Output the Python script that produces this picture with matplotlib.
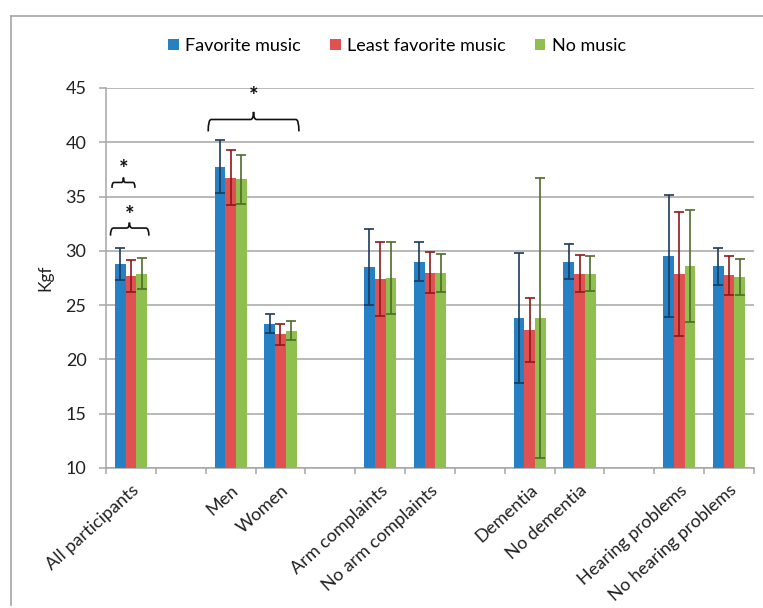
import matplotlib
matplotlib.use("Agg")
import matplotlib.pyplot as plt
from matplotlib.path import Path
from matplotlib.patches import PathPatch
from matplotlib.lines import Line2D
import numpy as np

plt.rcParams['font.family'] = ['Lato', 'DejaVu Sans']

categories = ["All participants", "", "Men", "Women", "", "Arm complaints",
              "No arm complaints", "", "Dementia", "No dementia", "",
              "Hearing problems", "No hearing problems"]
series_names = ["Favorite music", "Least favorite music", "No music"]

fav = [28.8, None, 37.75, 23.3, None, 28.5, 29.0, None, 23.8, 29.0, None, 29.5, 28.6]
least = [27.7, None, 36.75, 22.3, None, 27.4, 28.0, None, 22.7, 27.9, None, 27.9, 27.75]
nomus = [27.9, None, 36.6, 22.65, None, 27.5, 28.0, None, 23.8, 27.9, None, 28.6, 27.6]

fav_err = [1.5, None, 2.45, 0.9, None, 3.5, 1.8, None, 6.0, 1.6, None, 5.6, 1.7]
least_err = [1.5, None, 2.5, 1.0, None, 3.4, 1.85, None, 2.95, 1.7, None, 5.7, 1.8]
nomus_err = [1.4, None, 2.25, 0.85, None, 3.3, 1.75, None, 12.9, 1.6, None, 5.15, 1.65]

colors = ['#2581C4', '#E05252', '#8FBF4F']
err_colors = ['#1B3A5C', '#8B1A1A', '#4F6B2A']

FS = 13

fig = plt.figure(figsize=(7.63, 6.08), dpi=100)
ax = fig.add_axes([106/763, 1-468/608, (754-106)/763, (468-88)/608])

bw = 0.215
offsets = [-bw, 0, bw]
allvals = [fav, least, nomus]
allerrs = [fav_err, least_err, nomus_err]
for k in range(3):
    xs = [i + offsets[k] for i, v in enumerate(allvals[k]) if v is not None]
    ys = [v for v in allvals[k] if v is not None]
    es = [e for e in allerrs[k] if e is not None]
    ax.bar(xs, [y - 10 for y in ys], bottom=10, width=bw, color=colors[k], zorder=3,
           label=series_names[k])
    ax.errorbar(xs, ys, yerr=es, fmt='none', ecolor=err_colors[k], elinewidth=1.2,
                capsize=3.5, capthick=1.2, zorder=4)

ax.set_xlim(-0.5, len(categories) - 0.5)
ax.set_ylim(10, 45)
ax.set_yticks(np.arange(10, 46, 5))
ax.yaxis.grid(True, color='#A6A6A6', linewidth=1.1, zorder=0)
ax.set_axisbelow(True)
for s in ['top', 'right']:
    ax.spines[s].set_visible(False)
for s in ['left', 'bottom']:
    ax.spines[s].set_color('#A6A6A6')
    ax.spines[s].set_linewidth(1.1)

ax.set_xticks(np.arange(-0.5, len(categories), 1.0))
ax.set_xticklabels([])
ax.tick_params(axis='x', which='major', length=4, color='#A6A6A6', width=1.1)
ax.set_xticks(np.arange(len(categories)), minor=True)
ax.set_xticklabels(categories, minor=True, rotation=42, ha='right',
                   rotation_mode='anchor', fontsize=FS, color='#222222')
ax.tick_params(axis='x', which='minor', length=0, pad=10)
ax.tick_params(axis='y', length=5, color='#A6A6A6', width=1.1, labelsize=FS,
               labelcolor='#222222', pad=9)
ax.set_ylabel("Kgf", fontsize=FS - 0.5, color='#222222', labelpad=9)


def brace(x0, x1, xm, y_low, y_h, y_peak, rx=0.06):
    verts = [(x0, y_low), (x0, y_h), (x0 + rx, y_h), (xm - rx, y_h), (xm, y_h), (xm, y_peak),
             (x1, y_low), (x1, y_h), (x1 - rx, y_h), (xm + rx, y_h), (xm, y_h), (xm, y_peak)]
    codes = [Path.MOVETO, Path.CURVE3, Path.CURVE3, Path.LINETO, Path.CURVE3, Path.CURVE3] * 2
    ax.add_patch(PathPatch(Path(verts, codes), facecolor='none', edgecolor='#111111',
                           linewidth=1.2, zorder=5, clip_on=False))


brace(-0.41, 0.36, -0.03, 31.4, 32.1, 32.6)
ax.text(-0.03, 33.3, "*", ha='center', va='center', fontsize=16, fontweight='bold',
        color='#111111')
brace(-0.38, 0.08, -0.15, 35.8, 36.3, 36.75, rx=0.04)
ax.text(-0.15, 37.5, "*", ha='center', va='center', fontsize=16, fontweight='bold',
        color='#111111')
brace(1.55, 3.37, 2.46, 41.0, 42.1, 42.8)
ax.text(2.46, 44.2, "*", ha='center', va='center', fontsize=16, fontweight='bold',
        color='#111111', clip_on=False)

handles, labels = ax.get_legend_handles_labels()
fig.legend(handles, labels, loc='center', bbox_to_anchor=(397/763, 1-46/608), ncol=3,
           frameon=False, fontsize=FS, handlelength=0.6, handleheight=0.6,
           handletextpad=0.35, columnspacing=1.6)

# chart-area border (left and top)
fig.add_artist(Line2D([11/763, 11/763], [0.005, 1-16/608], transform=fig.transFigure,
                      color='#A6A6A6', linewidth=1.2))
fig.add_artist(Line2D([11/763, 1.0], [1-16/608, 1-16/608], transform=fig.transFigure,
                      color='#A6A6A6', linewidth=1.2))

fig.savefig("out.png", dpi=100)
